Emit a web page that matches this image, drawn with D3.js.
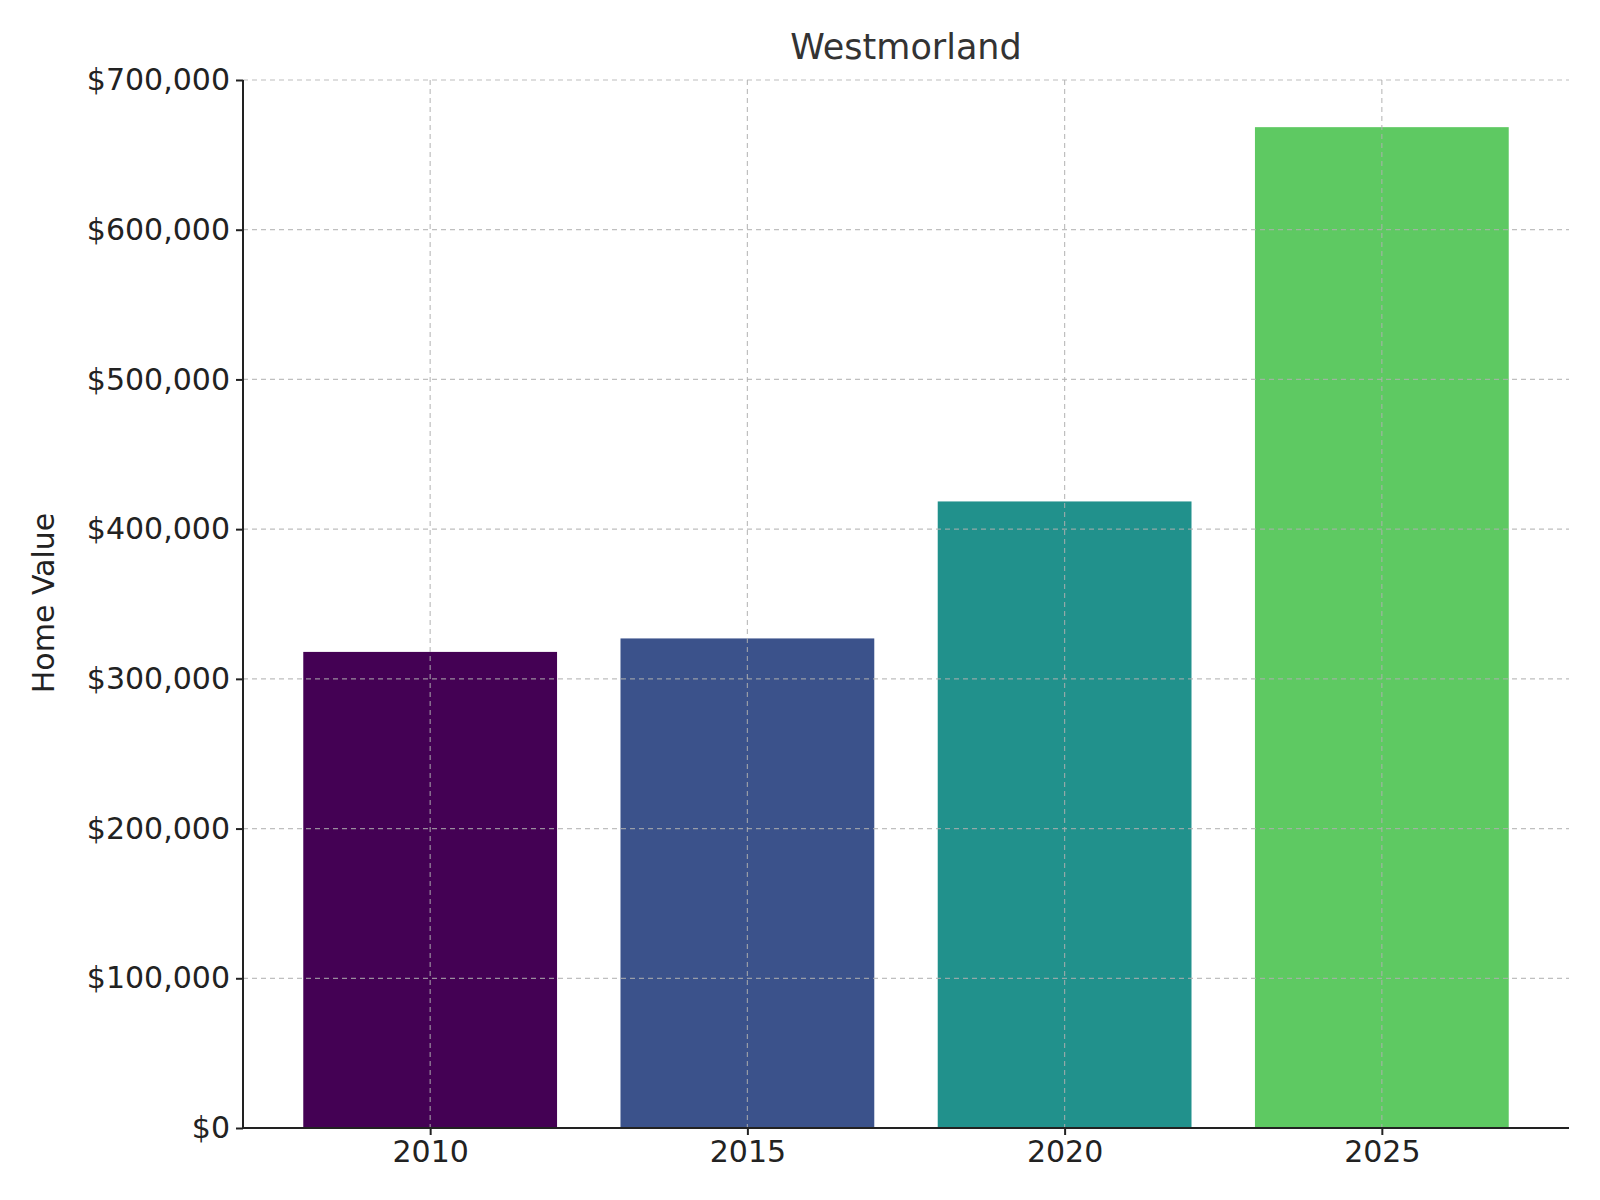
<!DOCTYPE html>
<html><head><meta charset="utf-8">
<script src="https://cdn.jsdelivr.net/npm/d3@7"></script>
<style>body{margin:0;background:#fff}</style></head>
<body><svg id="c" width="1600" height="1200"></svg>
<script>
const years = ["2010","2015","2020","2025"];
const values = [318000, 327000, 418500, 668500];
const colors = ["#440154","#3b528b","#21918c","#5ec962"];
const yTicks = [0,100000,200000,300000,400000,500000,600000,700000];

const svg = d3.select("#c");
const L=243,R=1569,T=80,B=1128;
const x = d3.scaleLinear().domain([-0.59,3.59]).range([L,R]);
const y = d3.scaleLinear().domain([0,700000]).range([B,T]);
const bw = x(0.4)-x(-0.4);
const font="DejaVu Sans, sans-serif";

svg.selectAll("rect.bar").data(values).enter().append("rect")
  .attr("x",(d,i)=>x(i)-bw/2).attr("y",d=>y(d))
  .attr("width",bw).attr("height",d=>B-y(d)).attr("fill",(d,i)=>colors[i]);

const g = svg.append("g");
yTicks.forEach(t=>g.append("line").attr("x1",L).attr("x2",R).attr("y1",y(t)).attr("y2",y(t))
  .attr("stroke","#b0b0b0").attr("stroke-dasharray","5,4").attr("stroke-width",1.2).attr("opacity",0.8));
years.forEach((yr,i)=>g.append("line").attr("x1",x(i)).attr("x2",x(i)).attr("y1",T).attr("y2",B)
  .attr("stroke","#b0b0b0").attr("stroke-dasharray","5,4").attr("stroke-width",1.2).attr("opacity",0.8));

const ya = svg.append("g").attr("transform",`translate(${L},0)`)
  .call(d3.axisLeft(y).tickValues(yTicks).tickFormat(d=>"$"+d3.format(",")(d)).tickSize(7).tickPadding(6));
const xa = svg.append("g").attr("transform",`translate(0,${B})`)
  .call(d3.axisBottom(x).tickValues([0,1,2,3]).tickFormat(i=>years[i]).tickSize(7).tickPadding(6));
[ya,xa].forEach(a=>{a.selectAll("text").attr("font-family",font).attr("font-size",30).attr("fill","#222");
  a.selectAll("line,path").attr("stroke","#222").attr("stroke-width",2);});
xa.select("path").attr("d",`M${L},0H${R}`);
ya.select("path").attr("d",`M0,${B}V${T}`);

svg.append("text").attr("x",906).attr("y",59).attr("text-anchor","middle")
  .attr("font-family",font).attr("font-size",35).attr("fill","#333").text("Westmorland");
svg.append("text").attr("transform","translate(54,603) rotate(-90)").attr("text-anchor","middle")
  .attr("font-family",font).attr("font-size",30).attr("fill","#222").text("Home Value");
</script></body></html>
